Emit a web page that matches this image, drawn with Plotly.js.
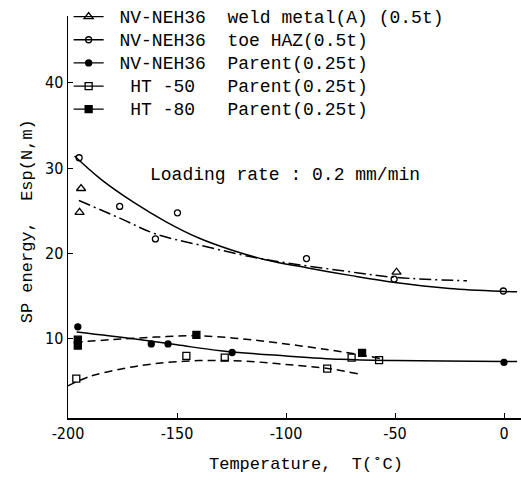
<!DOCTYPE html>
<html><head><meta charset="utf-8">
<script src="https://cdn.plot.ly/plotly-3.0.1.min.js"></script>
<style>html,body{margin:0;padding:0;background:#fff}</style>
</head><body><div id="chart" style="width:521px;height:484px"></div>
<script>
// ---- data ----
var weldT = [-194.0, -194.7, -49.3];
var weldE = [27.6, 24.8, 17.8];
var toeT = [-194.9, -176.3, -159.9, -149.8, -90.6, -50.4, -0.3];
var toeE = [31.2, 25.5, 21.7, 24.75, 19.4, 17.0, 15.6];
var parentT = [-195.5, -195.5, -161.8, -154.1, -124.7, 0];
var parentE = [11.4, 9.6, 9.4, 9.4, 8.4, 7.25];
var ht50T = [-196.2, -145.7, -128.1, -81.1, -69.9, -57.3];
var ht50E = [5.33, 8.0, 7.8, 6.5, 7.8, 7.5];
var ht80T = [-195.5, -195.5, -141.1, -65.1];
var ht80E = [9.9, 9.2, 10.46, 8.35];

// fitted curves
var toeCurveT = [-197, -185, -170, -155, -140, -125, -110, -90, -70, -50, -25, 0, 6];
var toeCurveE = [31.4, 28.7, 26.0, 23.7, 21.8, 20.4, 19.3, 18.3, 17.4, 16.6, 15.9, 15.55, 15.5];
var weldCurveT = [-195, -176, -160, -140, -116, -100, -75, -50, -17];
var weldCurveE = [26.2, 24.1, 22.3, 21.0, 19.6, 18.9, 18.0, 17.2, 16.8];
var parentCurveT = [-196, -170, -150, -130, -100, -75, -50, 0, 6];
var parentCurveE = [10.8, 10.0, 9.3, 8.6, 8.0, 7.6, 7.45, 7.35, 7.35];
var ht80CurveT = [-197, -180, -160, -140, -120, -100, -80, -65, -57];
var ht80CurveE = [9.6, 9.9, 10.2, 10.35, 10.0, 9.4, 8.7, 8.1, 7.7];
var ht50CurveT = [-200, -190, -175, -160, -140, -120, -100, -80, -67];
var ht50CurveE = [4.5, 5.6, 6.5, 7.1, 7.45, 7.4, 7.0, 6.5, 5.9];

var seriesNames = ["NV-NEH36", "NV-NEH36", "NV-NEH36", "\u00a0HT -50\u00a0", "\u00a0HT -80\u00a0"];
var seriesConds = ["weld metal(A) (0.5t)", "toe HAZ(0.5t)", "Parent(0.25t)", "Parent(0.25t)", "Parent(0.25t)"];
var xTicks = [-200, -150, -100, -50, 0];
var yTicks = [10, 20, 30, 40];

var K = 'black';
var markers = [
  {symbol: 'triangle-up-open', size: 8},
  {symbol: 'circle-open', size: 6},
  {symbol: 'circle', size: 6},
  {symbol: 'square-open', size: 7},
  {symbol: 'square', size: 7}
];
function m(i){ return {symbol: markers[i].symbol, size: markers[i].size, color: K, line: {color: K, width: 1.3}}; }

var traces = [];
function curve(x, y, dash){
  traces.push({x: x, y: y, mode: 'lines', line: {color: K, width: 1.5, dash: dash, shape: 'spline', smoothing: 1}, showlegend: false, hoverinfo: 'skip'});
}
curve(toeCurveT, toeCurveE, 'solid');
curve(weldCurveT, weldCurveE, '12px,4px,2px,4px');
curve(parentCurveT, parentCurveE, 'solid');
curve(ht80CurveT, ht80CurveE, '8px,5px');
curve(ht50CurveT, ht50CurveE, '8px,5px');

var pts = [[weldT, weldE], [toeT, toeE], [parentT, parentE], [ht50T, ht50E], [ht80T, ht80E]];
pts.forEach(function(p, i){
  traces.push({x: p[0], y: p[1], mode: 'markers', marker: m(i), showlegend: false, hoverinfo: 'skip'});
});
// legend entries
seriesNames.forEach(function(n, i){
  var label = '<span style="font-size:18px">\u00a0' + n + '\u00a0\u00a0' + seriesConds[i] + '</span>';
  traces.push({x: [null], y: [null], mode: 'lines+markers', name: label, marker: m(i), line: {color: K, width: 1.3}, showlegend: true});
});

var mono = 'Liberation Mono, Courier New, monospace';
var narrow = 'Liberation Sans Narrow, DejaVu Sans Condensed, sans-serif';

var layout = {
  width: 521, height: 484,
  margin: {l: 68, r: 0, t: 12, b: 66},
  paper_bgcolor: 'white', plot_bgcolor: 'white',
  showlegend: true,
  legend: {x: 0.0014, y: 1.04, xanchor: 'left', yanchor: 'top', font: {family: mono, size: 15.5, color: K},
           itemwidth: 30, bgcolor: 'rgba(0,0,0,0)', tracegroupgap: 0},
  xaxis: {range: [-200, 7.8], showline: true, linecolor: K, linewidth: 1.5, ticks: 'inside', ticklen: 5,
          tickcolor: K, tickvals: xTicks, ticktext: xTicks.map(String), showgrid: false, zeroline: false,
          tickfont: {family: narrow, size: 16, color: K}},
  yaxis: {range: [0.73, 47.8], showline: true, linecolor: K, linewidth: 1.5, ticks: 'inside', ticklen: 5,
          tickcolor: K, tickvals: yTicks, ticktext: yTicks.map(String), showgrid: false, zeroline: false,
          tickfont: {family: narrow, size: 16, color: K}},
  annotations: [
    {x: -100.5, y: 29.2, xref: 'x', yref: 'y', xanchor: 'center', yanchor: 'middle',
     text: 'Loading rate : 0.2 mm/min', showarrow: false, font: {family: mono, size: 18, color: K}},
    {x: -0.09, y: 0.49, xref: 'paper', yref: 'paper', xanchor: 'center', yanchor: 'middle',
     text: 'SP energy,\u00a0\u00a0Esp(N,m)', textangle: -90, showarrow: false, font: {family: mono, size: 17, color: K}},
    {x: 0.525, y: -0.116, xref: 'paper', yref: 'paper', xanchor: 'center', yanchor: 'middle',
     text: 'Temperature,\u00a0\u00a0T(\u02daC)', showarrow: false, font: {family: mono, size: 17, color: K}}
  ]
};
Plotly.newPlot('chart', traces, layout, {staticPlot: true, displayModeBar: false});
</script></body></html>
